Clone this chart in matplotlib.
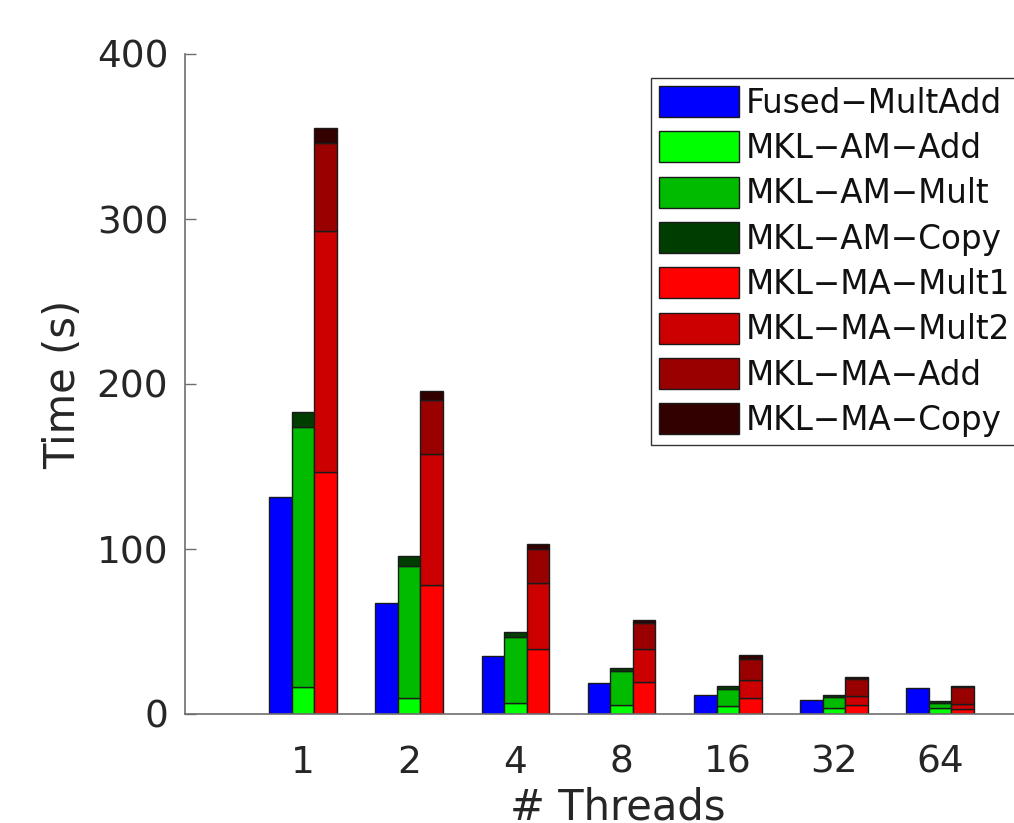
import matplotlib
matplotlib.use("Agg")
import matplotlib.pyplot as plt
import numpy as np

threads = ["1", "2", "4", "8", "16", "32", "64"]

fused_multadd = [131.6, 67.4, 35.2, 18.6, 11.7, 8.7, 15.5]
mkl_am_add = [16.1, 9.9, 6.9, 5.2, 4.6, 3.8, 3.6]
mkl_am_mult = [157.8, 79.6, 39.6, 20.9, 10.8, 6.3, 3.1]
mkl_am_copy = [9.3, 6.0, 3.2, 2.0, 1.6, 1.6, 1.2]
mkl_ma_mult1 = [146.8, 78.2, 39.4, 19.2, 9.9, 5.2, 3.0]
mkl_ma_mult2 = [146.2, 79.6, 39.8, 20.4, 10.9, 5.5, 2.9]
mkl_ma_add = [52.8, 32.4, 20.6, 15.3, 12.3, 10.3, 10.3]
mkl_ma_copy = [9.5, 5.7, 3.4, 1.9, 2.9, 1.6, 1.0]

series_names = ["Fused−MultAdd", "MKL−AM−Add", "MKL−AM−Mult", "MKL−AM−Copy",
                "MKL−MA−Mult1", "MKL−MA−Mult2", "MKL−MA−Add", "MKL−MA−Copy"]
series_colors = ["#0000ff", "#00ff00", "#00bb00", "#003d00",
                 "#ff0000", "#cc0000", "#990000", "#330000"]

text_color = "#262626"
spine_color = "#6e6e6e"
plt.rcParams["font.family"] = ["DejaVu Sans"]

fig = plt.figure(figsize=(10.14, 8.23), dpi=100)
ax = fig.add_axes([185 / 1014, 109 / 823, (1050 - 185) / 1014, 660 / 823])

x = np.arange(len(threads))
w = 0.212
edge = dict(edgecolor="#1a1a1a", linewidth=1.0)

handles = []
handles.append(ax.bar(x - w, fused_multadd, w, color=series_colors[0],
                      label=series_names[0], **edge))

bottom = np.zeros(len(threads))
for k, vals in zip([1, 2, 3], [mkl_am_add, mkl_am_mult, mkl_am_copy]):
    handles.append(ax.bar(x, vals, w, bottom=bottom, color=series_colors[k],
                          label=series_names[k], **edge))
    bottom = bottom + np.array(vals)

bottom = np.zeros(len(threads))
for k, vals in zip([4, 5, 6, 7], [mkl_ma_mult1, mkl_ma_mult2, mkl_ma_add, mkl_ma_copy]):
    handles.append(ax.bar(x + w, vals, w, bottom=bottom, color=series_colors[k],
                          label=series_names[k], **edge))
    bottom = bottom + np.array(vals)

ax.set_ylim(0, 400)
ax.set_xlim(-(303 - 185) / 106.2, (1050 - 303) / 106.2)
ax.set_yticks([0, 100, 200, 300, 400])
ax.set_xticks(x)
ax.set_xticklabels(threads)
ax.tick_params(axis="both", direction="in", length=8, width=1, color=spine_color,
               labelsize=27, labelcolor=text_color, pad=12)
ax.tick_params(axis="x", length=0, pad=22)
for s in ["top", "right"]:
    ax.spines[s].set_visible(False)
for s in ["left", "bottom"]:
    ax.spines[s].set_color(spine_color)
    ax.spines[s].set_linewidth(1.2)

ax.set_ylabel("Time (s)", fontsize=30, color=text_color, labelpad=9)
ax.set_xlabel("# Threads", fontsize=30, color=text_color, labelpad=4)

leg = fig.legend(handles=handles, loc="upper left",
                 bbox_to_anchor=(651 / 1014, 1 - 78 / 823), bbox_transform=fig.transFigure,
                 fontsize=23.5, frameon=True, fancybox=False, framealpha=1,
                 edgecolor="#333333", handlelength=2.45, handleheight=1.08,
                 handletextpad=0.2, labelspacing=0.36, borderpad=0.25, borderaxespad=0)
leg.get_frame().set_linewidth(1.0)
for t in leg.get_texts():
    t.set_color("#111111")

fig.savefig("out.png", dpi=100)
